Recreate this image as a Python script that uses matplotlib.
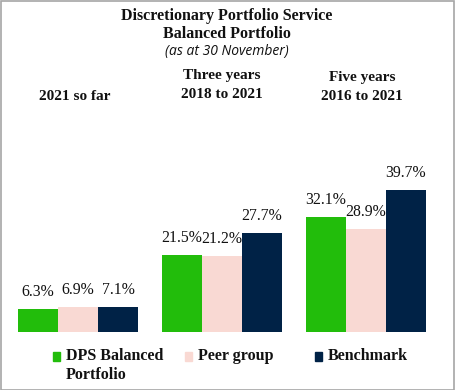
import matplotlib
matplotlib.use("Agg")
import matplotlib.pyplot as plt
from matplotlib.patches import Rectangle
import numpy as np

periods = ["2021 so far", "Three years\n2018 to 2021", "Five years\n2016 to 2021"]
series_names = ["DPS Balanced\nPortfolio", "Peer group", "Benchmark"]
dps = [6.3, 21.5, 32.1]
peer = [6.9, 21.2, 28.9]
bench = [7.1, 27.7, 39.7]
colors = ["#22BD0B", "#F9D9D3", "#002246"]

plt.rcParams['font.family'] = ['Liberation Serif', 'DejaVu Serif']

W, H = 455, 390
fig = plt.figure(figsize=(W/100, H/100), dpi=100)
fig.patch.set_facecolor("white")

def fx(px):
    return px / W
def fy(py):
    return 1 - py / H

# axes: baseline at y=332px, 40% at ~189px
ax = fig.add_axes([fx(18), fy(332), (426-18)/W, (332-188.9)/H])
ax.set_xlim(-0.4167, 2.4167)
ax.set_ylim(0, 40)
ax.axis("off")

x = np.arange(len(periods))
bw = 0.2778
vals = [dps, peer, bench]
for i, (v, c) in enumerate(zip(vals, colors)):
    xs = x + (i - 1) * bw
    ax.bar(xs, v, width=bw, color=c, edgecolor="none", clip_on=False)
    for xi, vi in zip(xs, v):
        ax.annotate(f"{vi:.1f}%", (xi, vi), xytext=(0, 6.5), textcoords="offset points",
                    ha="center", va="bottom", fontsize=11.3, color="#111111",
                    annotation_clip=False)

# titles
fig.text(fx(227), fy(16), "Discretionary Portfolio Service", ha="center", va="center",
         fontsize=11.5, fontweight="bold", color="#111111")
fig.text(fx(227), fy(34), "Balanced Portfolio", ha="center", va="center",
         fontsize=11.5, fontweight="bold", color="#111111")
fig.text(fx(227), fy(52), "(as at 30 November)", ha="center", va="center",
         fontsize=10, style="italic", family=["Open Sans", "DejaVu Sans"], color="#111111")

# period headers
hdr_pos = [(75, [97]), (222, [75, 94]), (362, [78, 96])]
for label, (cx, ys) in zip(periods, hdr_pos):
    lines = label.split("\n")
    for line, yy in zip(lines, ys):
        fig.text(fx(cx), fy(yy), line, ha="center", va="center", fontsize=11,
                 fontweight="bold", color="#111111")

# legend
leg_x = [56, 188, 318]
for name, c, lx in zip(series_names, colors, leg_x):
    fig.patches.append(Rectangle((fx(lx - 3.5), fy(361)), 7/W, 9/H,
                                 transform=fig.transFigure, color=c, figure=fig))
    lines = name.split("\n")
    for j, line in enumerate(lines):
        fig.text(fx(lx + 10), fy(356 + 19 * j), line, ha="left", va="center",
                 fontsize=11.5, fontweight="bold", color="#111111")

# border
fig.patches.append(Rectangle((0.5/W, 0.5/H), (W-1.5)/W, (H-1.5)/H, transform=fig.transFigure,
                             fill=False, edgecolor="#A6A6A6", linewidth=1.2, figure=fig))

fig.savefig("out.png", dpi=100, facecolor="white")
